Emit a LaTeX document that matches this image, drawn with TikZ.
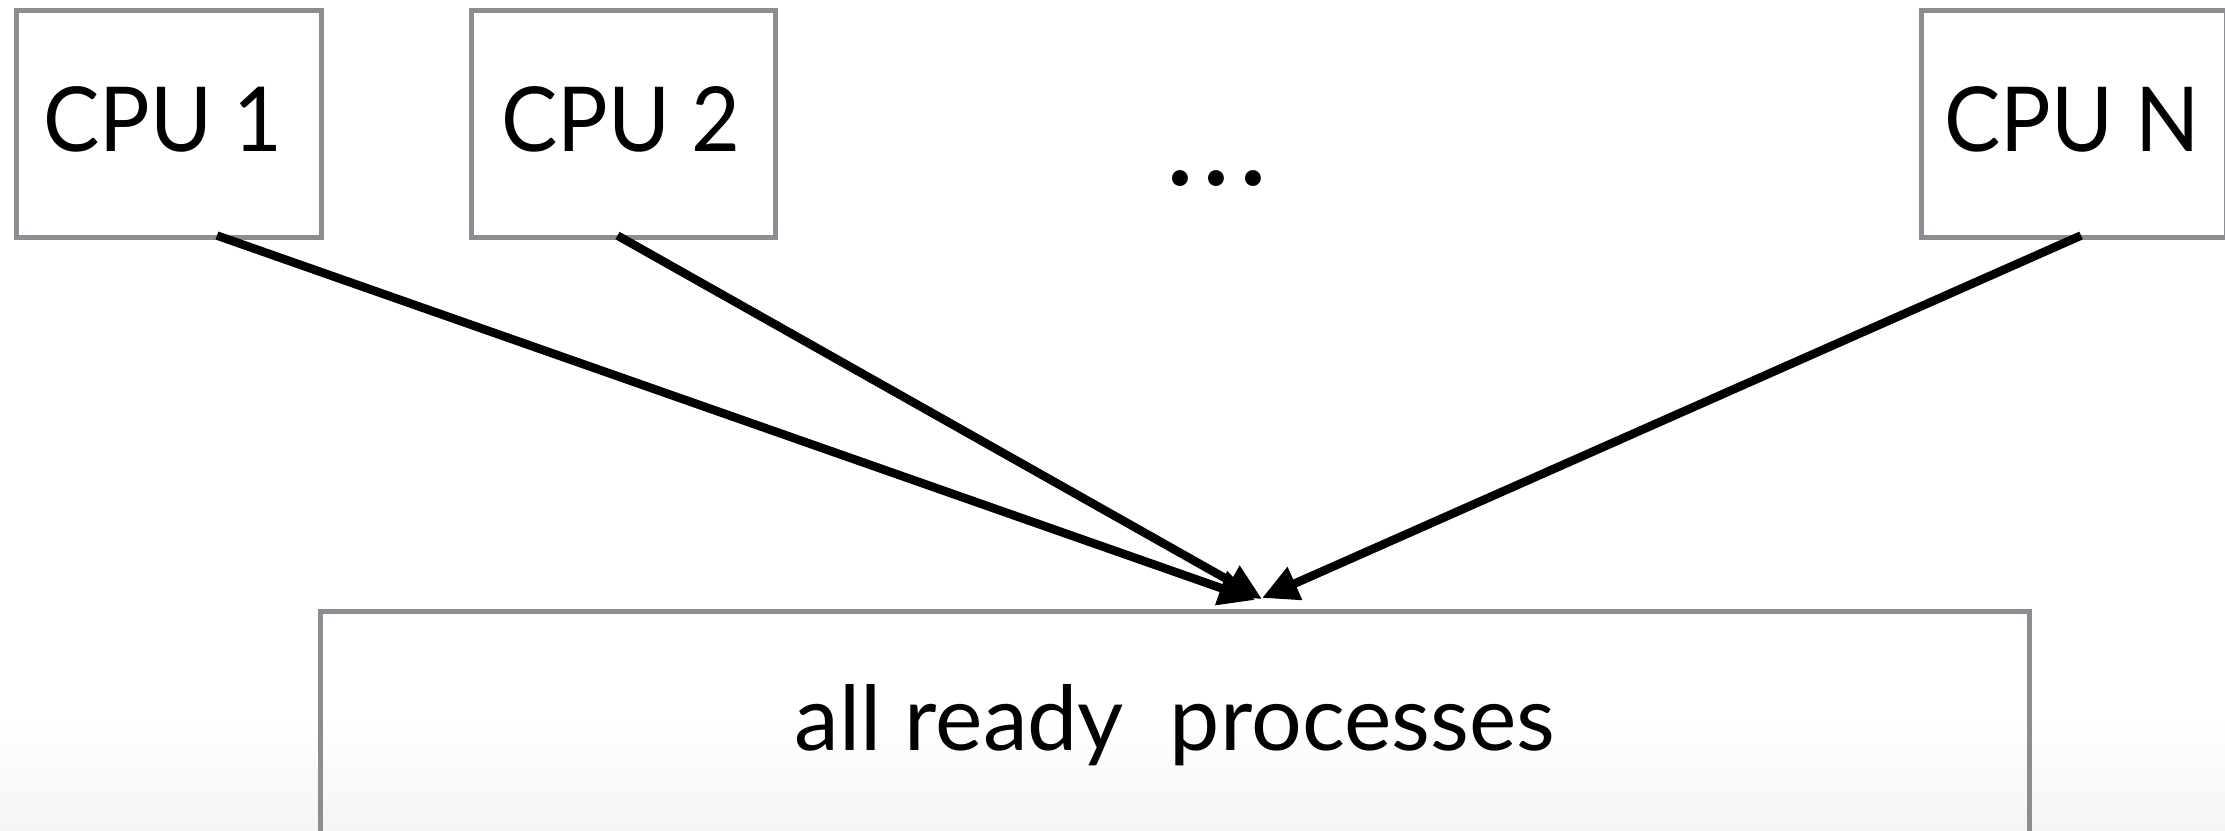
\documentclass[tikz,border=0pt]{standalone}
\usepackage{fontspec}
\setmainfont{Lato}
\newfontfamily\cpufont[FakeStretch=0.94]{Lato}
\usetikzlibrary{arrows.meta,calc}
\definecolor{boxgray}{HTML}{8A8D91}
\tikzset{
  cpubox/.style={draw=boxgray, line width=0.05cm, minimum width=3.04cm, minimum height=2.26cm, inner sep=0pt},
  poolbox/.style={draw=boxgray, line width=0.05cm, minimum width=17.08cm, minimum height=3.2cm, inner sep=0pt},
  lbl/.style={anchor=base, inner sep=0pt, font=\cpufont\fontsize{25.5}{30}\selectfont},
  poollbl/.style={anchor=base, inner sep=0pt, font=\fontsize{25.5}{30}\selectfont},
  feed/.style={line width=0.085cm, -{Triangle[length=0.36cm,width=0.34cm]}}
}
\begin{document}
\begin{tikzpicture}[x=0.01cm,y=-0.01cm]
\useasboundingbox (0,0) rectangle (2225,831);
\shade[top color=white, bottom color=black!4] (0,720) rectangle (2225,831);
% CPU boxes
\node[cpubox] (cpu1) at (169,124) {};
\node[cpubox] (cpu2) at (623.5,124) {};
\node[cpubox] (cpun) at (2074,124) {};
\node[lbl] (cpu1t) at (163,152) {CPU 1};
\node[lbl] (cpu2t) at (621,152) {CPU 2};
\node[lbl] (cpunt) at (2072,152) {CPU N};
% dots
\node[anchor=base, inner sep=0pt, font=\fontsize{36}{40}\selectfont] (dots) at (1217,186)
  {\makebox[10.5pt]{.}\makebox[10.5pt]{.}\makebox[10.5pt]{.}};
% pool box
\node[poolbox, anchor=north] (pool) at (1175,609) {};
\node[poollbl] (poolt) at (1175,750) {all ready\ \ processes};
% connectors
\coordinate (s1) at ($(cpu1.south)+(48,-4)$);
\coordinate (s2) at ($(cpu2.south)+(-6,-4)$);
\coordinate (sn) at ($(cpun.south)+(7,-4)$);
\coordinate (e1) at ($(pool.north)+(80,-9)$);
\coordinate (e2) at ($(pool.north)+(87,-10)$);
\coordinate (en) at ($(pool.north)+(87,-11)$);
\draw[feed] (s1) -- (e1);
\draw[feed] (s2) -- (e2);
\draw[feed] (sn) -- (en);
\end{tikzpicture}
\end{document}
